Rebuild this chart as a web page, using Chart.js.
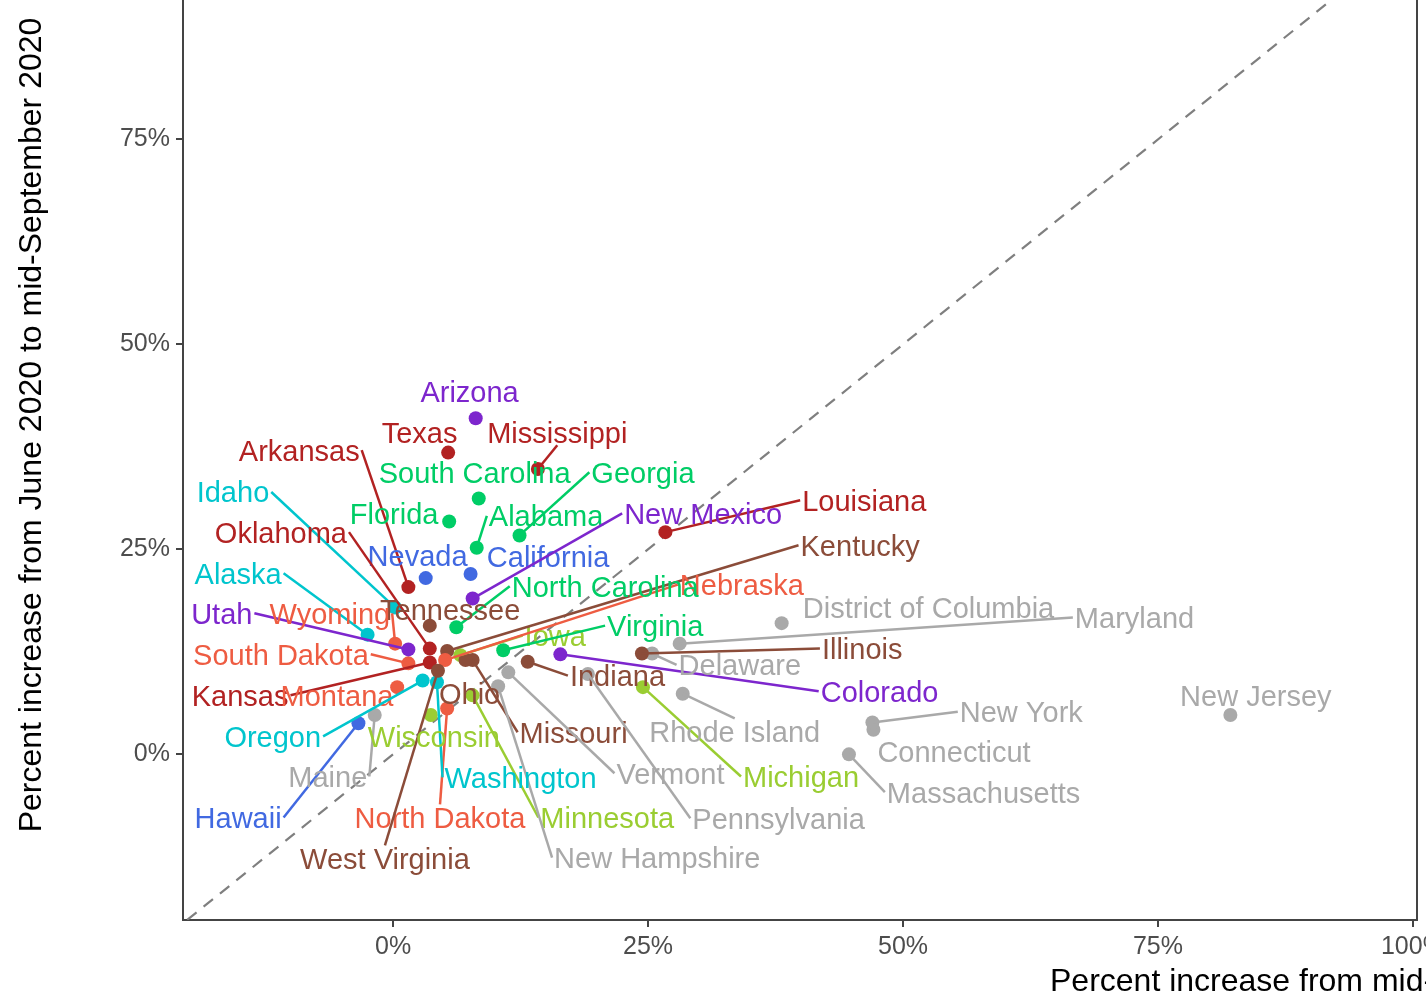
<!DOCTYPE html>
<html>
<head>
<meta charset="utf-8">
<script src="https://cdn.jsdelivr.net/npm/chart.js@4/dist/chart.umd.min.js"></script>
<style>
  html, body { margin: 0; padding: 0; background: #fff; overflow: hidden; }
  #wrap { width: 1426px; height: 1003px; position: relative; }
</style>
</head>
<body>
<div id="wrap"><canvas id="chart" width="1426" height="1003"></canvas></div>
<script>
// States, alphabetical
const states = [
  "Alabama", "Alaska", "Arizona", "Arkansas", "California", "Colorado",
  "Connecticut", "Delaware", "District of Columbia", "Florida", "Georgia",
  "Hawaii", "Idaho", "Illinois", "Indiana", "Iowa", "Kansas", "Kentucky",
  "Louisiana", "Maine", "Maryland", "Massachusetts", "Michigan", "Minnesota",
  "Mississippi", "Missouri", "Montana", "Nebraska", "Nevada", "New Hampshire",
  "New Jersey", "New Mexico", "New York", "North Carolina", "North Dakota",
  "Ohio", "Oklahoma", "Oregon", "Pennsylvania", "Rhode Island",
  "South Carolina", "South Dakota", "Tennessee", "Texas", "Utah", "Vermont",
  "Virginia", "Washington", "West Virginia", "Wisconsin", "Wyoming"
];

// % increase mid-March -> June 2020
const xIncrease = [
  8.2, -2.5, 8.1, 1.5, 7.6, 16.4,
  47.1, 25.4, 38.1, 5.5, 12.4,
  -3.4, 0.2, 24.4, 13.2, 6.6, 3.6, 5.3,
  26.7, -1.8, 28.1, 44.7, 24.5, 7.8,
  14.2, 7.8, 0.4, 5.1, 3.2, 10.3,
  82.1, 7.8, 47.0, 6.2, 5.3,
  7.1, 3.6, 2.9, 19.1, 28.4,
  8.4, 1.5, 3.6, 5.4, 1.5, 11.3,
  10.8, 4.3, 4.4, 3.7, 0.2
];

// % increase June -> mid-September 2020
const yIncrease = [
  25.2, 14.6, 41.0, 20.4, 22.0, 12.2,
  3.0, 12.3, 16.0, 28.4, 26.7,
  3.8, 17.9, 12.3, 11.3, 12.1, 11.2, 12.6,
  27.1, 4.8, 13.5, 0.0, 8.2, 7.2,
  34.8, 11.5, 8.2, 11.5, 21.5, 8.3,
  4.8, 19.0, 3.9, 15.5, 5.6,
  11.5, 12.9, 9.0, 9.8, 7.4,
  31.2, 11.1, 15.7, 36.8, 12.8, 10.0,
  12.7, 8.8, 10.2, 4.8, 13.5
];

// region index per state (colour group)
const stateRegion = [
  2, 4, 0, 1, 3, 0,
  8, 8, 8, 2, 2,
  3, 4, 6, 6, 7, 1, 6,
  1, 8, 8, 8, 7, 7,
  1, 6, 5, 5, 3, 8,
  8, 0, 8, 2, 5,
  6, 1, 4, 8, 8,
  2, 5, 6, 1, 0, 8,
  2, 4, 6, 7, 5
];

const regionColors = [
  "#7D26CD", // purple
  "#B22222", // firebrick
  "#00CD66", // green
  "#4169E1", // royal blue
  "#00C5CD", // turquoise
  "#EE5C42", // tomato
  "#8B4C39", // brown
  "#9ACD32", // yellow green
  "#A9A9A9"  // gray
];

// repelled label centres, in data units
const labelX = [
  15.0, -15.2, 7.5, -9.2, 15.2, 47.7,
  55.0, 34.0, 52.5, 0.1, 24.5,
  -15.2, -15.7, 46.0, 22.0, 15.9, -15.0, 45.8,
  46.2, -6.4, 72.7, 57.9, 40.0, 21.0,
  16.1, 17.7, -5.5, 34.2, 2.4, 25.9,
  84.6, 30.4, 61.6, 20.8, 4.6,
  7.5, -11.0, -11.8, 37.8, 33.5,
  8.0, -11.0, 5.6, 2.6, -16.8, 27.2,
  25.7, 12.5, -0.8, 4.0, -6.2
];
const labelY = [
  29.1, 22.1, 44.3, 37.1, 24.1, 7.7,
  0.4, 10.9, 17.9, 29.4, 34.4,
  -7.7, 32.0, 12.9, 9.6, 14.5, 7.2, 25.5,
  31.0, -2.7, 16.7, -4.6, -2.7, -7.7,
  39.3, 2.7, 7.2, 20.7, 24.3, -12.6,
  7.2, 29.4, 5.2, 20.5, -7.7,
  7.4, 27.1, 2.2, -7.8, 2.8,
  34.4, 12.2, 17.7, 39.3, 17.2, -2.3,
  15.7, -2.8, -12.7, 2.2, 17.2
];

// labels sitting next to their point, no segment
const noLeader = [
  "Arizona", "Texas", "South Carolina", "Florida", "Nevada", "California",
  "Tennessee", "District of Columbia", "Montana", "Ohio", "Wisconsin",
  "Connecticut", "New Jersey"
];

const xTicks = [0, 25, 50, 75, 100];
const yTicks = [0, 25, 50, 75];
const diagonal = [-25, 110]; // y = x reference

const xTitle = "Percent increase from mid-March 2020 to June 2020";
const yTitle = "Percent increase from June 2020 to mid-September 2020";

const FONT = "'Liberation Sans', Arial, Helvetica, sans-serif";
const AXIS = "#444444";

const points = states.map((s, i) => ({ x: xIncrease[i], y: yIncrease[i] }));
const colors = stateRegion.map((r) => regionColors[r]);

// labels + leader segments, ggrepel style:
// side of the box when the point is left/right of it, else top/bottom centre
const repelLabels = {
  id: "repelLabels",
  afterDatasetsDraw(chart) {
    const { ctx, scales } = chart;
    const fs = 29;
    ctx.save();
    ctx.font = `${fs}px ${FONT}`;
    ctx.textAlign = "center";
    ctx.textBaseline = "alphabetic";
    states.forEach((name, i) => {
      const px = scales.x.getPixelForValue(xIncrease[i]);
      const py = scales.y.getPixelForValue(yIncrease[i]);
      const lx = scales.x.getPixelForValue(labelX[i]);
      const ly = scales.y.getPixelForValue(labelY[i]);
      const w = ctx.measureText(name).width;
      const col = colors[i];
      if (!noLeader.includes(name)) {
        const x0 = lx - w / 2 - 2, x1 = lx + w / 2 + 2;
        const y0 = ly - fs * 0.45, y1 = ly + fs * 0.45;
        let end = null;
        if (px < x0) end = [x0, ly];
        else if (px > x1) end = [x1, ly];
        else if (py < y0) end = [lx, y0];
        else if (py > y1) end = [lx, y1];
        if (end) {
          ctx.strokeStyle = col;
          ctx.lineWidth = 2.5;
          ctx.beginPath();
          ctx.moveTo(px, py);
          ctx.lineTo(end[0], end[1]);
          ctx.stroke();
        }
      }
      ctx.fillStyle = col;
      ctx.fillText(name, lx, ly + fs * 0.36);
    });
    ctx.restore();
  }
};

// axis titles (plot is cropped, so placed by hand)
const axisTitles = {
  id: "axisTitles",
  afterDraw(chart) {
    const { ctx } = chart;
    ctx.save();
    ctx.fillStyle = "#000";
    ctx.font = `32px ${FONT}`;
    ctx.textBaseline = "alphabetic";
    ctx.textAlign = "left";
    ctx.fillText(xTitle, 1050, 991);
    ctx.translate(41, 425);
    ctx.rotate(-Math.PI / 2);
    ctx.textAlign = "center";
    ctx.fillText(yTitle, 0, 0);
    ctx.restore();
  }
};

const noPad = (s) => { s.paddingTop = 0; s.paddingBottom = 0; s.paddingLeft = 0; s.paddingRight = 0; };

new Chart(document.getElementById("chart"), {
  type: "scatter",
  data: {
    datasets: [
      {
        data: points,
        backgroundColor: colors,
        pointBackgroundColor: colors,
        pointBorderWidth: 0,
        pointRadius: 7,
        pointHoverRadius: 7,
        order: 1
      },
      {
        type: "line",
        data: diagonal.map((v) => ({ x: v, y: v })),
        borderColor: "#7F7F7F",
        borderWidth: 2.2,
        borderDash: [12, 9],
        pointRadius: 0,
        fill: false,
        order: 2
      }
    ]
  },
  options: {
    responsive: false,
    animation: false,
    devicePixelRatio: 1,
    events: [],
    layout: { padding: 0, autoPadding: false },
    plugins: { legend: { display: false }, tooltip: { enabled: false } },
    scales: {
      x: {
        type: "linear",
        min: -20.6,
        max: 100.4,
        afterBuildTicks: (s) => { s.ticks = xTicks.map((v) => ({ value: v })); },
        afterFit: (s) => { s.height = 83; noPad(s); },
        ticks: {
          color: "#4D4D4D",
          font: { family: FONT, size: 25 },
          padding: 5,
          maxRotation: 0,
          autoSkip: false,
          callback: (v) => v + "%"
        },
        grid: { drawOnChartArea: false, drawTicks: true, tickLength: 7, color: AXIS, lineWidth: 2 },
        border: { display: true, color: AXIS, width: 2 }
      },
      y: {
        type: "linear",
        min: -20.2,
        max: 92,
        afterBuildTicks: (s) => { s.ticks = yTicks.map((v) => ({ value: v })); },
        afterFit: (s) => { s.width = 183; noPad(s); },
        ticks: {
          color: "#4D4D4D",
          font: { family: FONT, size: 25 },
          padding: 6,
          autoSkip: false,
          callback: (v) => v + "%"
        },
        grid: { drawOnChartArea: false, drawTicks: true, tickLength: 7, color: AXIS, lineWidth: 2 },
        border: { display: true, color: AXIS, width: 2 }
      },
      y2: {
        type: "linear",
        position: "right",
        min: -20.2,
        max: 92,
        afterFit: (s) => { s.width = 9; noPad(s); },
        ticks: { display: false },
        grid: { display: false },
        border: { display: true, color: AXIS, width: 2 }
      }
    }
  },
  plugins: [repelLabels, axisTitles]
});
</script>
</body>
</html>
